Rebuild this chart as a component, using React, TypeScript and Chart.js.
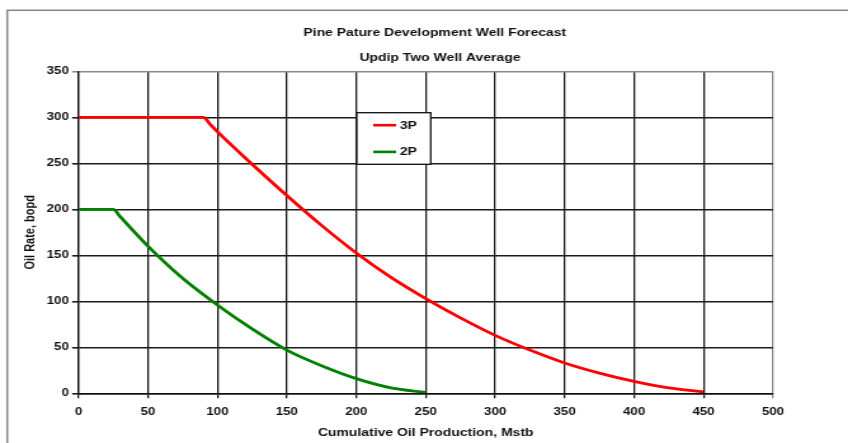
import React, { useEffect, useRef } from "react";
import { Chart, registerables } from "chart.js";

Chart.register(...registerables);

const TITLE = "Pine Pature Development Well Forecast";
const SUBTITLE = "Updip Two Well Average";
const X_TITLE = "Cumulative Oil Production, Mstb";
const Y_TITLE = "Oil Rate, bopd";

const X_3P = [0, 90, 95, 100, 110, 125, 150, 175, 200, 225, 250, 275, 300, 325, 350, 375, 400, 425, 450];
const Y_3P = [300, 300, 292, 284.5, 270, 249, 215, 182.5, 152.5, 126, 103, 82, 63, 47, 33, 22, 13, 6, 1.5];
const X_2P = [0, 25, 30, 50, 75, 100, 125, 150, 175, 200, 225, 250];
const Y_2P = [200, 200, 192, 160, 125, 96, 70, 47, 30, 16, 6, 1];

const X_MIN = 0, X_MAX = 500, X_STEP = 50;
const Y_MIN = 0, Y_MAX = 350, Y_STEP = 50;

// canvas is drawn narrower and stretched horizontally, like the reference
const CW = 668;
const CH = 443;
const SHOWN_W = 848;

const FONT = '"Liberation Sans", Arial, sans-serif';

const framePlugin = {
  id: "frame",
  beforeDraw(chart: any) {
    const ctx = chart.ctx;
    ctx.save();
    ctx.fillStyle = "#ffffff";
    ctx.fillRect(0, 0, chart.width, chart.height);
    ctx.strokeStyle = "#8a8a8a";
    ctx.lineWidth = 1.6;
    ctx.strokeRect(5.7, 10.3, 2000, 2000);
    ctx.restore();
  },
};

const titlesPlugin = {
  id: "titles",
  afterDraw(chart: any) {
    const ctx = chart.ctx;
    ctx.save();
    ctx.fillStyle = "#111";
    ctx.font = `bold 11px ${FONT}`;
    ctx.textAlign = "center";
    ctx.textBaseline = "middle";
    ctx.fillText(TITLE, 342.5, 33);
    ctx.fillText(SUBTITLE, 346.6, 58);
    ctx.restore();
  },
};

const legendPlugin = {
  id: "boxLegend",
  afterDraw(chart: any) {
    const ctx = chart.ctx;
    const bx = 281, by = 112.7, bw = 58.3, bh = 51.6;
    ctx.save();
    ctx.fillStyle = "#ffffff";
    ctx.fillRect(bx, by, bw, bh);
    ctx.strokeStyle = "#111";
    ctx.lineWidth = 1.3;
    ctx.strokeRect(bx, by, bw, bh);
    chart.data.datasets.forEach((ds: any, i: number) => {
      const y = by + 12.5 + i * 26.7;
      ctx.strokeStyle = ds.borderColor;
      ctx.lineWidth = 2.6;
      ctx.beginPath();
      ctx.moveTo(bx + 13, y);
      ctx.lineTo(bx + 31, y);
      ctx.stroke();
      ctx.fillStyle = "#111";
      ctx.font = `bold 11px ${FONT}`;
      ctx.textAlign = "left";
      ctx.textBaseline = "middle";
      ctx.fillText(ds.label, bx + 34, y + 0.5);
    });
    ctx.restore();
  },
};

export default function App() {
  const ref = useRef<HTMLCanvasElement | null>(null);

  useEffect(() => {
    if (!ref.current) return;
    const pts = (xs: number[], ys: number[]) => xs.map((x, i) => ({ x, y: ys[i] }));
    const chart = new Chart(ref.current, {
      type: "line",
      data: {
        datasets: [
          {
            label: "3P",
            data: pts(X_3P, Y_3P),
            borderColor: "#ff0000",
            borderWidth: 2.8,
            pointRadius: 0,
            cubicInterpolationMode: "monotone",
            borderJoinStyle: "round",
            fill: false,
          },
          {
            label: "2P",
            data: pts(X_2P, Y_2P),
            borderColor: "#008000",
            borderWidth: 2.8,
            pointRadius: 0,
            cubicInterpolationMode: "monotone",
            borderJoinStyle: "round",
            fill: false,
          },
        ],
      },
      options: {
        responsive: false,
        maintainAspectRatio: false,
        animation: false,
        devicePixelRatio: 1,
        layout: { padding: { top: 71.3, right: 59.1, bottom: 0, left: 0 } },
        plugins: {
          legend: { display: false },
          title: { display: false },
          tooltip: { enabled: false },
        },
        scales: {
          x: {
            type: "linear",
            min: X_MIN,
            max: X_MAX,
            ticks: {
              stepSize: X_STEP,
              color: "#111",
              font: { family: FONT, size: 10.5, weight: "bold" },
              padding: 7.5,
              maxRotation: 0,
            },
            grid: {
              color: (c: any) => (c.tick && c.tick.value === X_MAX ? "#8a8a8a" : "#1a1a1a"),
              lineWidth: 1.3,
              tickLength: 5,
            },
            border: { color: "#111", width: 1.4 },
            title: {
              display: true,
              text: X_TITLE,
              color: "#111",
              font: { family: FONT, size: 11, weight: "bold" },
              padding: { top: 0, bottom: 3.4 },
            },
            afterFit: (s: any) => {
              s.height = 49.7;
            },
          },
          y: {
            type: "linear",
            min: Y_MIN,
            max: Y_MAX,
            ticks: {
              stepSize: Y_STEP,
              color: "#111",
              font: { family: FONT, size: 10.5, weight: "bold" },
              padding: 2.5,
            },
            grid: {
              color: (c: any) => (c.tick && c.tick.value === Y_MAX ? "#8a8a8a" : "#1a1a1a"),
              lineWidth: 1.6,
              tickLength: 5,
            },
            border: { color: "#111", width: 1.3 },
            title: {
              display: true,
              text: Y_TITLE,
              color: "#111",
              font: { family: FONT, size: 11, weight: "bold" },
              padding: { top: 17, bottom: 0 },
            },
            afterFit: (s: any) => {
              s.width = 61.8;
            },
          },
        },
      },
      plugins: [framePlugin, titlesPlugin, legendPlugin],
    } as any);
    return () => chart.destroy();
  }, []);

  return (
    <div style={{ position: "fixed", left: 0, top: 0, width: SHOWN_W, height: CH, background: "#fff" }}>
      <canvas
        ref={ref}
        width={CW}
        height={CH}
        style={{ width: SHOWN_W + "px", height: CH + "px", display: "block" }}
      />
    </div>
  );
}
